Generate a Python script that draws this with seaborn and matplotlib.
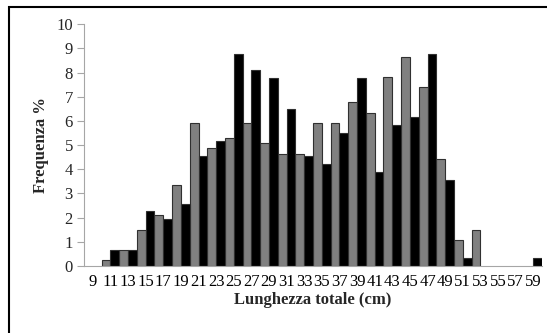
import matplotlib
matplotlib.use('Agg')
import matplotlib.pyplot as plt
import seaborn as sns
import pandas as pd
import numpy as np
from matplotlib.patches import Rectangle

categories = [str(v) for v in range(9, 60, 2)]
serie_grigia = [0, 0.23, 0.65, 1.49, 2.09, 3.37, 5.91, 4.88, 5.29, 5.91, 5.07, 4.65, 4.65,
                5.91, 5.91, 6.77, 6.34, 7.80, 8.63, 7.40, 4.42, 1.08, 1.49, 0, 0, 0]
serie_nera = [0, 0.65, 0.65, 2.28, 1.95, 2.58, 4.57, 5.18, 8.78, 8.09, 7.78, 6.5, 4.57,
              4.23, 5.52, 7.78, 3.9, 5.83, 6.17, 8.78, 3.56, 0.35, 0, 0, 0, 0.35]
series_names = ["Serie 1", "Serie 2"]

df = pd.DataFrame({
    "cat": categories * 2,
    "val": serie_grigia + serie_nera,
    "serie": [series_names[0]] * len(categories) + [series_names[1]] * len(categories),
})

sns.set_style("white")
plt.rcParams['font.family'] = ['Liberation Serif', 'DejaVu Serif']

fig = plt.figure(figsize=(5.47, 3.33), dpi=100)
ax = fig.add_axes([84/547, 1-266/333, (542-84)/547, (266-24.3)/333])

sns.barplot(data=df, x="cat", y="val", hue="serie", order=categories,
            palette=["#808080", "#000000"], width=1.0, gap=0, dodge=True,
            edgecolor="#303030", linewidth=0.8, legend=False, ax=ax, errorbar=None)

for p in ax.patches:
    if p.get_height() == 0:
        p.set_visible(False)

ax.set_ylim(0, 10)
ax.set_xlim(-0.5, len(categories) - 0.5)
ax.set_yticks(range(0, 11))
ax.set_xticks(np.arange(len(categories)))
ax.set_xticklabels(categories)
ax.set_xticks(np.arange(-0.5, len(categories), 1), minor=True)

ax.tick_params(axis='x', which='major', length=0, pad=6, labelsize=12, colors='black')
ax.tick_params(axis='x', which='minor', length=5, color='#a6a6a6', width=0.8, direction='out')
ax.tick_params(axis='y', which='major', length=5, color='#a6a6a6', width=0.8, pad=3,
               labelsize=12, direction='out', left=True)

for s in ['top', 'right']:
    ax.spines[s].set_visible(False)
for s in ['left', 'bottom']:
    ax.spines[s].set_color('#a6a6a6')
    ax.spines[s].set_linewidth(0.8)

ax.set_xlabel("Lunghezza totale (cm)", fontsize=12, fontweight='bold', labelpad=1)
ax.set_ylabel("Frequenza %", fontsize=12, fontweight='bold', labelpad=5)

top = 1 - 7/333
fig.add_artist(Rectangle((9/547, -0.2), 1.2, top + 0.2, transform=fig.transFigure,
                         fill=False, edgecolor='black', linewidth=1.5))

fig.savefig("out.png", dpi=100)
